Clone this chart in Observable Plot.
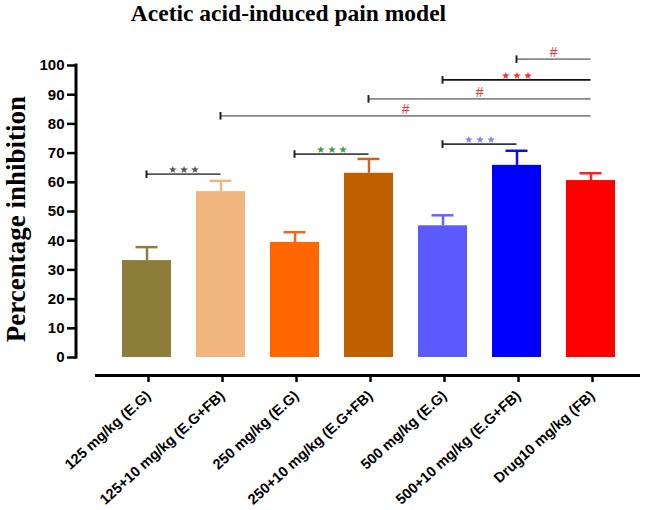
<!DOCTYPE html>
<html><head><meta charset="utf-8">
<script src="https://cdn.jsdelivr.net/npm/d3@7"></script>
<script src="https://cdn.jsdelivr.net/npm/@observablehq/plot@0.6"></script>
<style>body{margin:0;background:#fff} #chart svg{display:block}</style>
</head><body><div id="chart"></div>
<script>
const groups = ["125 mg/kg (E.G)", "125+10 mg/kg (E.G+FB)", "250 mg/kg (E.G)", "250+10 mg/kg (E.G+FB)", "500 mg/kg (E.G)", "500+10 mg/kg (E.G+FB)", "Drug10 mg/kg (FB)"];
const means = [33.2, 56.8, 39.4, 63.1, 45.1, 65.8, 60.6];
const errors = [4.6, 3.7, 3.5, 4.9, 3.6, 5.0, 2.5];
const barColors = ["#8c7e3a", "#f0b67e", "#ff6600", "#c05f00", "#5a5aff", "#0000ff", "#ff0000"];
const errColors = ["#8c7e3a", "#f0b67e", "#f06818", "#c06a28", "#6464ff", "#0a0aff", "#ff2020"];
const yTicks = d3.range(0, 101, 10);

// significance brackets (group indices, height in % inhibition)
const bracketFrom = [0, 2, 4, 1, 3, 4, 5];
const bracketTo   = [1, 3, 5, 6, 6, 6, 6];
const bracketY    = [62.6, 69.5, 72.9, 82.6, 88.4, 94.9, 102];
const bracketText = ["***", "***", "***", "#", "#", "***", "#"];
const bracketTextColor = ["#555555", "#3f9a3f", "#7f7fff", "#ee3333", "#ee3333", "#ee3333", "#ee3333"];
const bracketLineColor = ["#555555", "#444444", "#333333", "#888888", "#888888", "#111111", "#888888"];

const data = groups.map((g, i) => ({group: g, mean: means[i], err: errors[i], color: barColors[i], ecolor: errColors[i]}));

function axisLines(index, scales, values, dims) {
  const g = d3.create("svg:g");
  const y0 = dims.height - dims.marginBottom;
  g.append("line").attr("x1", dims.marginLeft).attr("x2", dims.marginLeft)
    .attr("y1", dims.marginTop - 1.5).attr("y2", y0 + 1.5)
    .attr("stroke", "#000").attr("stroke-width", 3);
  g.append("line").attr("x1", dims.marginLeft + 19).attr("x2", dims.width - dims.marginRight)
    .attr("y1", y0 + 18.5).attr("y2", y0 + 18.5)
    .attr("stroke", "#000").attr("stroke-width", 3);
  return g.node();
}

function brackets(index, scales) {
  const g = d3.create("svg:g");
  const cx = i => scales.x(groups[i]) + scales.x.bandwidth() / 2;
  for (let k = 0; k < bracketY.length; k++) {
    const x1 = cx(bracketFrom[k]), x2 = cx(bracketTo[k]), y = scales.y(bracketY[k]);
    g.append("line").attr("x1", x1).attr("x2", x2).attr("y1", y).attr("y2", y)
      .attr("stroke", bracketLineColor[k]).attr("stroke-width", 1.7);
    g.append("line").attr("x1", x1).attr("x2", x1).attr("y1", y - 3.8).attr("y2", y + 3.8)
      .attr("stroke", "#222").attr("stroke-width", 2);
    const isStar = bracketText[k] === "***";
    g.append("text")
      .attr("x", (x1 + x2) / 2 + (isStar ? 1.5 : 0))
      .attr("y", isStar ? y - 1.2 : y - 2)
      .attr("text-anchor", "middle")
      .attr("fill", bracketTextColor[k])
      .attr("font-family", isStar ? "DejaVu Sans" : "Liberation Sans, Arial, sans-serif")
      .attr("font-style", isStar ? null : "italic")
      .attr("font-size", isStar ? 10 : 14)
      .attr("letter-spacing", isStar ? 2.2 : null)
      .text(isStar ? "\u2605\u2605\u2605" : bracketText[k]);
  }
  return g.node();
}

const plot = Plot.plot({
  width: 645, height: 510,
  marginLeft: 76, marginRight: 5, marginTop: 65, marginBottom: 153,
  x: {domain: groups, range: [108.25, 629.25], paddingInner: 0.34, paddingOuter: 0.17, align: 0.5, label: null},
  y: {domain: [0, 100], label: null},
  style: {fontFamily: "Liberation Sans, Arial, sans-serif", background: "white", overflow: "visible", color: "#000"},
  marks: [
    Plot.barY(data, {x: "group", y: "mean", fill: "color"}),
    Plot.ruleX(data, {x: "group", y1: "mean", y2: d => d.mean + d.err, stroke: "ecolor", strokeWidth: 2.5}),
    Plot.tickY(data, {x: "group", y: d => d.mean + d.err, stroke: "ecolor", strokeWidth: 2.5, insetLeft: 13.5, insetRight: 13.5}),
    Plot.axisY({ticks: yTicks, tickSize: 9, tickPadding: 3, strokeWidth: 2.5, fontSize: 15, fontWeight: "bold", label: null}),
    Plot.axisX({tickSize: 7, tickPadding: 11, dy: 18, dx: 1.5, tickRotate: -42, strokeWidth: 2.5, fontSize: 14.5, fontWeight: "bold", label: null}),
    axisLines,
    brackets,
    Plot.text(["Acetic acid-induced pain model"], {text: d => d, frameAnchor: "top", dx: -70, dy: -45, lineAnchor: "bottom", fontFamily: "Liberation Serif, Times New Roman, serif", fontSize: 23.5, fontWeight: "bold"}),
    Plot.text(["Percentage inhibition"], {text: d => d, frameAnchor: "left", textAnchor: "middle", rotate: -90, dx: -52, dy: 7.5, lineAnchor: "bottom", fontFamily: "Liberation Serif, Times New Roman, serif", fontSize: 27, fontWeight: "bold"})
  ]
});
document.getElementById("chart").appendChild(plot);
</script>
</body></html>
